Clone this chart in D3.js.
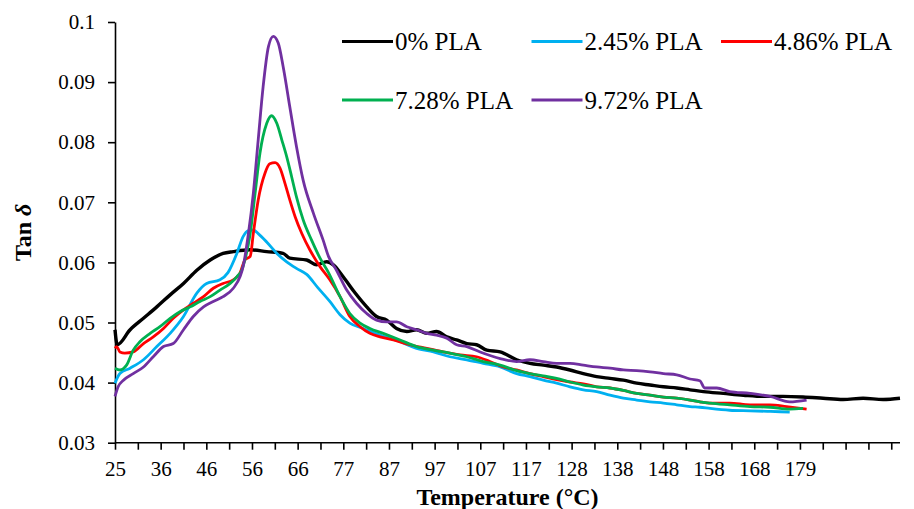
<!DOCTYPE html>
<html>
<head>
<meta charset="utf-8">
<script src="https://cdn.jsdelivr.net/npm/d3@7"></script>
<style>
  body { margin: 0; background: #fff; }
  svg { font-family: "Times New Roman", "Liberation Serif", serif; }
</style>
</head>
<body>
<div id="chart"></div>
<script>
// temperature (°C), tan delta
var black = [
[25.0,0.0488],[25.5,0.0463],[28.4,0.0488],[31.4,0.0507],[34.4,0.0526],[37.4,0.0546],[40.4,0.0565],[43.4,0.0587],[46.4,0.0604],[49.3,0.0615],[51.6,0.0618],[55.4,0.0621],[59.1,0.0618],[62.8,0.0615],[64.3,0.0607],[68.1,0.0604],[70.3,0.0596],[72.6,0.0601],[74.1,0.0596],[76.3,0.0576],[79.0,0.0549],[81.6,0.0526],[83.8,0.0510],[86.1,0.0504],[88.3,0.0490],[90.6,0.0485],[92.8,0.0488],[95.1,0.0482],[97.3,0.0485],[99.6,0.0476],[101.8,0.0471],[104.1,0.0465],[106.3,0.0463],[108.6,0.0454],[111.6,0.0451],[115.3,0.0438],[118.3,0.0432],[121.3,0.0429],[124.3,0.0426],[127.3,0.0421],[130.3,0.0415],[133.3,0.0410],[136.3,0.0407],[139.3,0.0404],[142.3,0.0399],[145.3,0.0396],[148.3,0.0393],[151.3,0.0391],[154.3,0.0388],[157.3,0.0385],[161.8,0.0382],[166.3,0.0379],[170.8,0.0377],[175.2,0.0377],[179.7,0.0376],[184.2,0.0374],[188.7,0.0372],[193.2,0.0374],[197.7,0.0372],[201.5,0.0374]
];
var blue = [
[25.0,0.0399],[26.1,0.0415],[28.4,0.0424],[31.4,0.0438],[34.4,0.0460],[37.4,0.0482],[40.4,0.0510],[43.4,0.0549],[45.6,0.0565],[48.6,0.0571],[50.4,0.0583],[52.4,0.0615],[53.8,0.0643],[55.0,0.0653],[56.1,0.0654],[57.2,0.0648],[59.1,0.0634],[61.4,0.0615],[63.6,0.0601],[65.8,0.0590],[68.1,0.0580],[70.6,0.0558],[73.3,0.0535],[75.6,0.0513],[77.8,0.0499],[80.8,0.0490],[84.6,0.0479],[88.4,0.0470],[92.8,0.0457],[96.6,0.0451],[100.3,0.0443],[104.1,0.0438],[107.8,0.0432],[111.6,0.0426],[115.3,0.0415],[118.3,0.0410],[121.3,0.0404],[124.3,0.0399],[127.3,0.0393],[130.3,0.0388],[133.3,0.0385],[136.3,0.0379],[139.3,0.0374],[142.3,0.0371],[145.3,0.0368],[148.3,0.0366],[151.3,0.0363],[154.3,0.0360],[156.5,0.0359],[158.8,0.0357],[163.2,0.0354],[167.8,0.0353],[172.3,0.0352],[176.7,0.0351]
];
var red = [
[25.0,0.0457],[25.4,0.0460],[26.1,0.0451],[27.2,0.0449],[29.1,0.0451],[31.4,0.0465],[33.6,0.0476],[35.9,0.0490],[38.1,0.0507],[40.4,0.0521],[42.6,0.0532],[44.9,0.0543],[47.1,0.0557],[49.3,0.0565],[51.6,0.0571],[53.1,0.0582],[54.2,0.0604],[55.4,0.0610],[56.1,0.0648],[57.2,0.0704],[58.7,0.0748],[59.8,0.0764],[61.0,0.0766],[62.1,0.0757],[63.2,0.0732],[64.3,0.0704],[65.5,0.0676],[67.0,0.0648],[68.8,0.0621],[71.1,0.0593],[73.3,0.0571],[75.6,0.0543],[77.8,0.0510],[80.1,0.0493],[82.3,0.0482],[84.6,0.0476],[87.6,0.0471],[91.3,0.0463],[95.1,0.0457],[98.8,0.0451],[102.6,0.0446],[106.3,0.0443],[109.3,0.0435],[112.3,0.0426],[115.3,0.0421],[118.3,0.0415],[121.3,0.0410],[124.3,0.0405],[127.3,0.0401],[130.3,0.0398],[133.3,0.0393],[136.3,0.0391],[139.3,0.0387],[142.3,0.0382],[145.3,0.0379],[148.3,0.0376],[151.3,0.0374],[154.3,0.0371],[156.5,0.0368],[158.8,0.0366],[163.2,0.0366],[167.8,0.0363],[172.3,0.0363],[176.0,0.0360],[180.5,0.0356]
];
var green = [
[25.0,0.0424],[26.1,0.0421],[27.6,0.0429],[29.1,0.0454],[30.6,0.0468],[32.9,0.0482],[35.1,0.0493],[37.4,0.0507],[39.6,0.0518],[41.9,0.0526],[44.1,0.0535],[46.4,0.0543],[48.6,0.0554],[50.9,0.0565],[52.4,0.0576],[53.5,0.0587],[54.2,0.0604],[55.4,0.0648],[56.5,0.0715],[57.6,0.0782],[59.1,0.0831],[60.2,0.0844],[61.4,0.0831],[62.5,0.0804],[63.6,0.0776],[64.7,0.0743],[65.8,0.0709],[67.3,0.0671],[69.2,0.0637],[71.1,0.0607],[73.0,0.0583],[75.6,0.0543],[77.8,0.0515],[80.1,0.0499],[82.3,0.0490],[85.3,0.0482],[89.1,0.0471],[92.8,0.0460],[96.6,0.0454],[100.3,0.0449],[104.1,0.0443],[107.8,0.0435],[111.6,0.0429],[115.3,0.0420],[118.3,0.0415],[121.3,0.0411],[124.3,0.0407],[127.3,0.0401],[130.3,0.0396],[133.3,0.0393],[136.3,0.0391],[139.3,0.0387],[142.3,0.0382],[145.3,0.0379],[148.3,0.0376],[151.3,0.0374],[154.3,0.0371],[156.5,0.0368],[158.8,0.0366],[163.2,0.0363],[167.8,0.0360],[172.3,0.0359],[176.7,0.0356],[179.7,0.0357]
];
var purple = [
[25.0,0.0377],[25.7,0.0393],[26.9,0.0404],[29.1,0.0415],[31.4,0.0426],[33.6,0.0443],[35.9,0.0460],[38.1,0.0465],[40.4,0.0488],[42.6,0.0510],[44.9,0.0526],[47.1,0.0535],[49.3,0.0543],[51.6,0.0557],[53.1,0.0576],[53.8,0.0593],[55.0,0.0648],[56.1,0.0715],[57.2,0.0804],[58.3,0.0892],[59.5,0.0959],[60.6,0.0976],[61.7,0.0965],[62.8,0.0926],[64.3,0.0859],[65.8,0.0793],[67.3,0.0737],[69.6,0.0682],[71.8,0.0637],[73.0,0.0610],[74.8,0.0587],[77.1,0.0554],[79.3,0.0532],[81.6,0.0515],[83.8,0.0504],[86.1,0.0501],[88.3,0.0501],[90.6,0.0493],[92.8,0.0488],[95.1,0.0482],[97.3,0.0479],[99.6,0.0474],[101.8,0.0463],[104.1,0.0460],[107.1,0.0451],[111.6,0.0440],[115.3,0.0435],[118.3,0.0438],[121.3,0.0435],[124.3,0.0432],[127.3,0.0432],[130.3,0.0429],[133.3,0.0426],[136.3,0.0424],[139.3,0.0421],[142.3,0.0420],[145.3,0.0418],[148.3,0.0415],[151.3,0.0413],[154.3,0.0406],[156.5,0.0403],[157.6,0.0391],[160.3,0.0391],[163.2,0.0385],[167.8,0.0382],[172.3,0.0377],[176.7,0.0368],[180.5,0.0371]
];

var seriesNames = ["0% PLA", "2.45% PLA", "4.86% PLA", "7.28% PLA", "9.72% PLA"];
var seriesColors = ["#000000", "#00b0f0", "#ff0000", "#00b050", "#7030a0"];
var seriesData = [black, blue, red, green, purple];

var xTickLabels = ["25","36","46","56","66","77","87","97","107","117","128","138","148","158","168","179"];
var yTicks = [0.03, 0.04, 0.05, 0.06, 0.07, 0.08, 0.09, 0.1];

var width = 914;
var height = 509;
var plotLeft = 115, plotRight = 900, plotTop = 22, plotBottom = 442.7;

// category axis: one tick every 5.13 °C, label on every second tick
var tickStep = (179 - 25) / 30;
var xMax = 201.5;

var svg = d3.select("#chart")
    .append("svg")
    .attr("width", width)
    .attr("height", height)
    .style("background-color", "white");

var x = d3.scaleLinear().domain([25, xMax]).range([plotLeft, plotRight]);
var y = d3.scaleLinear().domain([0.03, 0.1]).range([plotBottom, plotTop]);

var xTicks = d3.range(0, 35).map(function (i) { return 25 + i * tickStep; });

var xAxis = svg.append("g")
    .attr("transform", "translate(0," + plotBottom + ")")
    .call(d3.axisBottom(x)
        .tickValues(xTicks)
        .tickSize(7)
        .tickSizeOuter(0)
        .tickPadding(11)
        .tickFormat(function (d, i) {
            return i % 2 === 0 && xTickLabels[i / 2] ? xTickLabels[i / 2] : "";
        }));

var yAxis = svg.append("g")
    .attr("transform", "translate(" + plotLeft + ",0)")
    .call(d3.axisLeft(y)
        .tickValues(yTicks)
        .tickSize(7)
        .tickSizeOuter(0)
        .tickPadding(13)
        .tickFormat(d3.format(".2~f")));

svg.selectAll(".tick text")
    .attr("font-family", "'Times New Roman', 'Liberation Serif', serif")
    .attr("font-size", "21px")
    .attr("fill", "#000");
svg.selectAll(".domain, .tick line")
    .attr("stroke", "#000")
    .attr("stroke-width", 1.6);
xAxis.select(".domain").attr("d", "M" + plotLeft + ",0H" + plotRight);

var line = d3.line()
    .curve(d3.curveMonotoneX)
    .x(function (d) { return x(d[0]); })
    .y(function (d) { return y(d[1]); });

svg.append("g")
    .selectAll("path")
    .data(seriesData)
    .enter().append("path")
    .attr("fill", "none")
    .attr("stroke", function (d, i) { return seriesColors[i]; })
    .attr("stroke-width", function (d, i) { return i === 0 ? 3.4 : 2.8; })
    .attr("stroke-linejoin", "round")
    .attr("d", line);

// legend, three entries per row
var legend = svg.append("g").selectAll("g")
    .data(seriesNames)
    .enter().append("g")
    .attr("transform", function (d, i) {
        var col = i % 3, row = Math.floor(i / 3);
        return "translate(" + (342 + col * 189.5) + "," + (41.5 + row * 58.5) + ")";
    });

legend.append("line")
    .attr("x1", 0).attr("x2", 51)
    .attr("stroke", function (d, i) { return seriesColors[i]; })
    .attr("stroke-width", 3.2);

legend.append("text")
    .attr("x", 53)
    .attr("y", 8.5)
    .attr("font-size", "25px")
    .text(function (d) { return d; });

svg.append("text")
    .attr("x", (plotLeft + plotRight) / 2)
    .attr("y", 505)
    .attr("text-anchor", "middle")
    .attr("font-size", "24px")
    .attr("font-weight", "bold")
    .text("Temperature (°C)");

var yTitle = svg.append("text")
    .attr("transform", "translate(31," + (plotTop + plotBottom) / 2 + ") rotate(-90)")
    .attr("text-anchor", "middle")
    .attr("font-size", "24px")
    .attr("font-weight", "bold");
yTitle.append("tspan").text("Tan ");
yTitle.append("tspan").attr("font-style", "italic").text("δ");
</script>
</body>
</html>
